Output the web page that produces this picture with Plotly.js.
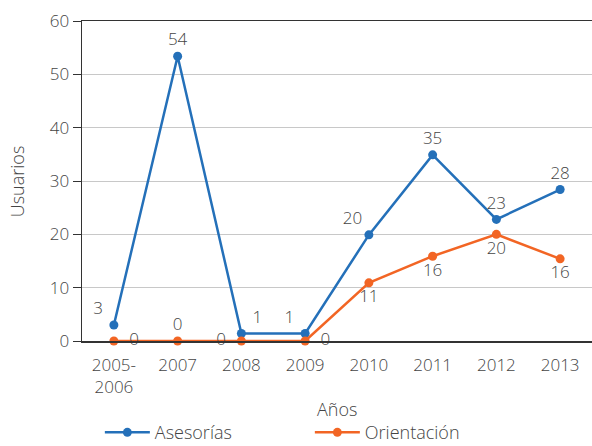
<!DOCTYPE html>
<html>
<head>
<meta charset="utf-8">
<script src="https://cdn.plot.ly/plotly-3.0.1.min.js"></script>
<style>html,body{margin:0;padding:0;background:#fff;}#chart{width:592px;height:446px;}</style>
</head>
<body>
<div id="chart"></div>
<script>
const categories = ["2005-<br>2006", "2007", "2008", "2009", "2010", "2011", "2012", "2013"];
const asesorias = [3, 53.4, 1.4, 1.4, 19.9, 34.9, 22.8, 28.4];
const asesoriasLabels = ["3", "54", "1", "1", "20", "35", "23", "28"];
const orientacion = [0, 0, 0, 0, 10.9, 15.9, 20, 15.4];
const orientacionLabels = ["0", "0", "0", "0", "11", "16", "20", "16"];
const yTicks = [0, 10, 20, 30, 40, 50, 60];
const xTitle = "Años";
const yTitle = "Usuarios";

const fontFam = "'Open Sans', sans-serif";
const txtColor = "#444";
const f = (size) => ({family: fontFam, size: size, color: txtColor, weight: 300});

const traces = [
  {
    x: categories, y: asesorias, name: "Asesorías", type: "scatter", mode: "lines+markers+text",
    text: asesoriasLabels.map((t, i) => i === 2 ? " " + t : ((i === 0 || i === 3) ? t + " " : t)),
    textposition: ["top left", "top center", "top right", "top left", "top left", "top center", "top center", "top center"],
    textfont: f(17),
    line: {color: "#2470B9", width: 2.5},
    marker: {color: "#2470B9", size: 9},
    cliponaxis: false
  },
  {
    x: categories, y: orientacion, name: "Orientación", type: "scatter", mode: "lines+markers+text",
    text: orientacionLabels.map((t, i) => i === 0 || i === 3 ? "  " + t : (i === 2 ? t + "  " : t)),
    textposition: ["middle right", "top center", "middle left", "middle right", "bottom center", "bottom center", "bottom center", "bottom center"],
    textfont: f(17),
    line: {color: "#F26524", width: 2.5},
    marker: {color: "#F26524", size: 9},
    cliponaxis: false
  }
];

const layout = {
  width: 592, height: 446,
  margin: {l: 82, r: 0, t: 21, b: 105},
  paper_bgcolor: "#fff", plot_bgcolor: "#fff",
  font: f(17),
  showlegend: true,
  legend: {orientation: "h", x: 0.035, xanchor: "left", yref: "container", y: 0.03, yanchor: "middle",
           font: f(18), entrywidth: 150, entrywidthmode: "pixels", itemwidth: 45,
           traceorder: "normal"},
  xaxis: {
    type: "category", range: [-0.5, 7.5], automargin: false,
    showline: true, linecolor: "#333", linewidth: 1.5, mirror: true,
    showgrid: false, zeroline: false, ticks: "", ticklabelstandoff: 8,
    tickfont: f(17)
  },
  yaxis: {
    range: [0, 60], tickvals: yTicks, ticktext: yTicks.map(String), automargin: false,
    showline: true, linecolor: "#333", linewidth: 1.5,
    ticks: "outside", ticklen: 8, tickcolor: "#333",
    gridcolor: "#c8c8c8", gridwidth: 1, zeroline: false,
    tickfont: f(17)
  },
  annotations: [
    {text: xTitle, xref: "paper", yref: "paper", x: 0.5, y: -0.2125, xanchor: "center", yanchor: "middle",
     showarrow: false, font: f(18)},
    {text: yTitle, xref: "paper", yref: "paper", x: -0.127, y: 0.5, xanchor: "center", yanchor: "middle",
     textangle: -90, showarrow: false, font: f(18)}
  ]
};

Plotly.newPlot("chart", traces, layout, {displayModeBar: false, staticPlot: true});
</script>
</body>
</html>
